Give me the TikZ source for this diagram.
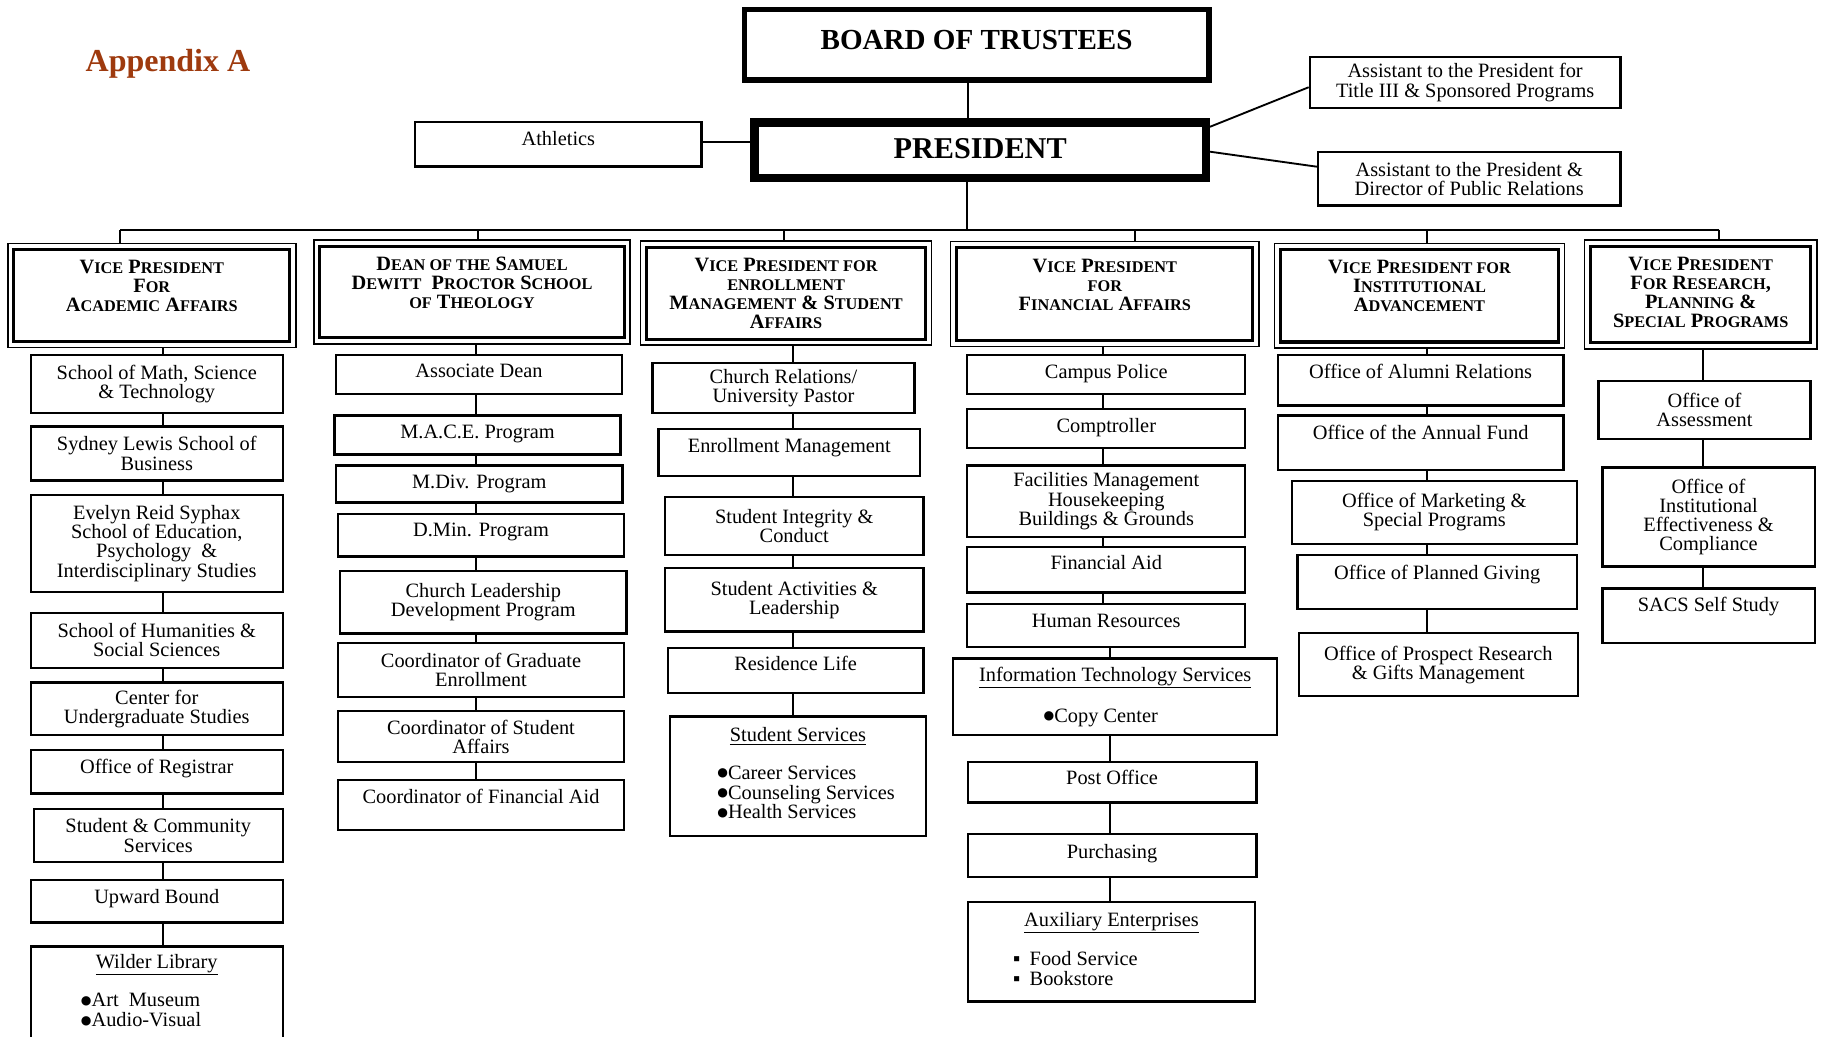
\documentclass[tikz,border=0pt]{standalone}
\usepackage{fontspec}
\setmainfont{Liberation Serif}
\newfontfamily\dotfont{DejaVu Sans}
\usepackage{xcolor}
\definecolor{apxbrown}{RGB}{158,58,14}
\tikzstyle{unit} = [rectangle, draw=black, line width=2pt, inner sep=0pt, align=center, font=\fontsize{17.5}{16.5}\selectfont]
\tikzstyle{vpbox} = [unit, line width=2.6pt, font=\fontsize{17.5}{16.3}\selectfont\bfseries]
\tikzstyle{headbox} = [rectangle, draw=black, inner sep=0pt]
\tikzstyle{link} = [line width=1.6pt]
\tikzstyle{col1} = [unit, minimum width=216.5pt]
\tikzstyle{col2} = [unit, minimum width=246pt]
\tikzstyle{col4} = [unit, minimum width=239pt]
\tikzstyle{col6} = [unit, minimum width=182.5pt]
\tikzset{lift/.style={text depth=#1}}
\newcommand\lowsc[1]{{\fontsize{14}{16.3}\selectfont #1}}
\newcommand\dotmark{\raisebox{2.2pt}{\dotfont\fontsize{10.5}{10}\selectfont ●}}

\begin{document}
\begin{tikzpicture}[x=1pt,y=-1pt]
\useasboundingbox (0,0) rectangle (1568,891);
% top of the chart
\node[anchor=base west, inner sep=0pt, text=apxbrown, font=\fontsize{27.5}{30}\selectfont\bfseries] (apx) at (73.5,61.6) {Appendix A};
\node[headbox, line width=5pt, minimum width=399pt, minimum height=61pt, font=\fontsize{25}{28}\selectfont\bfseries, text depth=9pt] (board) at (839.5,38.6) {BOARD OF TRUSTEES};
\node[headbox, line width=7pt, minimum width=388pt, minimum height=47.5pt, font=\fontsize{26}{28}\selectfont\bfseries, text depth=3pt] (president) at (842.6,129) {PRESIDENT};
\node[unit, minimum width=246pt, minimum height=38pt, lift=9.6pt] (athletics) at (480,124) {Athletics};
\node[unit, minimum width=267pt, minimum height=44pt] (asst1) at (1259.5,71) {Assistant to the President for\\Title III \& Sponsored Programs};
\node[unit, minimum width=260pt, minimum height=46pt] (asst2) at (1263,153.6) {Assistant to the President \&\\Director of Public Relations};

\draw[link, line width=1.8pt] ([xshift=-7pt]board.south) -- ([xshift=-7pt]board.south |- president.north);
\draw[link] ([yshift=2pt]athletics.east) -- ([yshift=2pt]athletics.east -| president.west);
\draw[link] ([yshift=20pt]president.east) -- ([yshift=-4pt]asst1.west);
\draw[link] ([yshift=-1.4pt]president.east) -- ([yshift=10.3pt]asst2.west);

% vice presidents
\node[vpbox, minimum width=237pt, minimum height=79pt] (vpaa) at (130.5,254) {V\lowsc{ICE} P\lowsc{RESIDENT}\\F\lowsc{OR}\\A\lowsc{CADEMIC} A\lowsc{FFAIRS}\\\mbox{}};
\node[vpbox, minimum width=261.5pt, minimum height=79pt] (dean) at (405.75,251) {D\lowsc{EAN OF THE} S\lowsc{AMUEL}\\D\lowsc{EWITT}\ \ P\lowsc{ROCTOR} S\lowsc{CHOOL}\\\lowsc{OF} T\lowsc{HEOLOGY}\\\mbox{}};
\node[vpbox, minimum width=239.5pt, minimum height=79pt] (vpem) at (675.75,252) {V\lowsc{ICE} P\lowsc{RESIDENT FOR}\\\lowsc{ENROLLMENT}\\M\lowsc{ANAGEMENT} \& S\lowsc{TUDENT}\\A\lowsc{FFAIRS}};
\node[vpbox, minimum width=254.5pt, minimum height=79.5pt] (vpfa) at (949.75,252.75) {V\lowsc{ICE} P\lowsc{RESIDENT}\\\lowsc{FOR}\\F\lowsc{INANCIAL} A\lowsc{FFAIRS}\\\mbox{}};
\node[vpbox, minimum width=238.5pt, minimum height=79.5pt] (vpia) at (1220.25,254.25) {V\lowsc{ICE} P\lowsc{RESIDENT FOR}\\I\lowsc{NSTITUTIONAL}\\A\lowsc{DVANCEMENT}\\\mbox{}};
\node[vpbox, minimum width=189pt, minimum height=83pt, text depth=4pt] (vprp) at (1462,253) {V\lowsc{ICE} P\lowsc{RESIDENT}\\F\lowsc{OR} R\lowsc{ESEARCH},\\P\lowsc{LANNING} \&\\S\lowsc{PECIAL} P\lowsc{ROGRAMS}};
\foreach \n in {vpaa,dean,vpem,vpfa,vpia,vprp}
  \draw[line width=1.4pt] ([xshift=-4pt,yshift=4pt]\n.north west) rectangle ([xshift=4pt,yshift=-4pt]\n.south east);

\coordinate (bus) at (831.5,197.5);
\draw[link, line width=1.8pt] ([xshift=-11pt]president.south) -- ([xshift=-11pt]president.south |- bus);
\draw[link] ([xshift=-27pt]vpaa.north |- bus) -- ([xshift=16pt]vprp.north |- bus);
\foreach \n/\dx in {vpaa/-27,dean/5.25,vpem/-1.75,vpfa/25.75,vpia/6.75,vprp/16}
  \draw[link] ([xshift=\dx pt]\n.north |- bus) -- ([xshift=\dx pt,yshift=4pt]\n.north);

% academic affairs
\node[col1, minimum height=50pt] (aa1) at (134.75,330) {School of Math, Science\\\& Technology};
\node[col1, minimum height=46.5pt] (aa2) at (134.75,389.75) {Sydney Lewis School of\\Business};
\node[col1, minimum height=83.7pt] (aa3) at (134.75,467.15) {Evelyn Reid Syphax\\School of Education,\\Psychology\ \ \&\\Interdisciplinary Studies};
\node[col1, minimum height=47.3pt] (aa4) at (134.75,550.35) {School of Humanities \&\\Social Sciences};
\node[col1, minimum height=45.2pt] (aa5) at (134.75,609.4) {Center for\\Undergraduate Studies};
\node[col1, minimum height=37.3pt, lift=9.9pt] (aa6) at (134.75,663.35) {Office of Registrar};
\node[col1, minimum width=214pt, minimum height=45.6pt] (aa7) at (136,718.2) {Student \& Community\\Services};
\node[col1, minimum height=36.6pt, lift=9pt] (aa8) at (134.75,774.7) {Upward Bound};
\node[col1, minimum height=80.6pt] (aa9) at (134.75,854) {\underline{Wilder Library}\\[14.5pt]\begin{tabular}[t]{@{}l@{\hspace{27pt}}}\dotmark Art\ \ Museum\\\dotmark Audio-Visual\end{tabular}};

% theology
\node[col2, minimum height=33.7pt, lift=5.7pt] (ad) at (411.75,321.85) {Associate Dean};
\node[col2, minimum height=33.3pt, lift=5.1pt] (mace) at (410.5,373.95) {M.A.C.E. Program};
\node[col2, minimum height=31.7pt, lift=3.5pt] (mdiv) at (412,416.15) {M.Div. Program};
\node[col2, minimum height=36.6pt, lift=9.2pt] (dmin) at (413.5,460.2) {D.Min. Program};
\node[col2, minimum height=53.9pt] (cld) at (415.5,517.55) {Church Leadership\\Development Program};
\node[col2, minimum height=45.9pt] (cge) at (413.5,575.95) {Coordinator of Graduate\\Enrollment};
\node[col2, minimum height=44.2pt] (csa) at (413.5,633.2) {Coordinator of Student\\Affairs};
\node[col2, minimum height=42.9pt, lift=14.3pt] (cfa) at (413.5,691.95) {Coordinator of Financial Aid};

% enrollment management and student affairs
\node[unit, minimum width=225pt, minimum height=42.8pt] (em1) at (673.5,333.4) {Church Relations/\\University Pastor};
\node[unit, minimum width=225pt, minimum height=40.2pt, lift=11.6pt] (em2) at (678.5,389.1) {Enrollment Management};
\node[unit, minimum width=222.5pt, minimum height=49.8pt] (em3) at (682.75,452.2) {Student Integrity \&\\Conduct};
\node[unit, minimum width=222.5pt, minimum height=54.7pt] (em4) at (682.75,515.65) {Student Activities \&\\Leadership};
\node[unit, minimum width=220pt, minimum height=38.7pt, lift=11.3pt] (em5) at (684,576.15) {Residence Life};
\node[unit, minimum width=220pt, minimum height=102.6pt] (em6) at (686,667.3) {\underline{Student Services}\\[15.5pt]\begin{tabular}[t]{@{\hspace{14pt}}l@{}}\dotmark Career Services\\\dotmark Counseling Services\\\dotmark Health Services\end{tabular}};

% financial affairs
\node[col4, minimum height=33.7pt, lift=5.8pt] (fa1) at (951,321.85) {Campus Police};
\node[col4, minimum height=33.8pt, lift=6.2pt] (fa2) at (951,368.5) {Comptroller};
\node[col4, minimum height=61.1pt] (fa3) at (951,430.85) {Facilities Management\\Housekeeping\\Buildings \& Grounds};
\node[col4, minimum height=39.2pt, lift=11.8pt] (fa4) at (951,489.6) {Financial Aid};
\node[col4, minimum height=36.4pt, lift=7.6pt] (fa5) at (951,537.7) {Human Resources};
\node[unit, minimum width=278.5pt, minimum height=66.1pt] (fa6) at (958.75,599.05) {\underline{Information Technology Services}\\[16.5pt]\dotmark Copy Center\kern25pt};
\node[unit, minimum width=248pt, minimum height=35pt, lift=8pt] (fa7) at (956,672.5) {Post Office};
\node[unit, minimum width=248pt, minimum height=36.9pt, lift=8.3pt] (fa8) at (956,735.65) {Purchasing};
\node[unit, minimum width=247pt, minimum height=85.7pt] (fa9) at (955.5,818.15) {\underline{Auxiliary Enterprises}\\[15pt]\begin{tabular}[t]{@{}l@{\hspace{62pt}}}▪\hspace{8pt}Food Service\\▪\hspace{8pt}Bookstore\end{tabular}};

% institutional advancement
\node[unit, minimum width=245.5pt, minimum height=43.7pt, lift=15.7pt] (ia1) at (1221.25,326.85) {Office of Alumni Relations};
\node[unit, minimum width=245.5pt, minimum height=46.7pt, lift=18.5pt] (ia2) at (1221.25,380.65) {Office of the Annual Fund};
\node[unit, minimum width=245pt, minimum height=54.5pt] (ia3) at (1233,440.45) {Office of Marketing \&\\Special Programs};
\node[unit, minimum width=240pt, minimum height=46.7pt, lift=17.5pt] (ia4) at (1235.5,500.45) {Office of Planned Giving};
\node[unit, minimum width=240pt, minimum height=53.9pt] (ia5) at (1236.5,571.35) {Office of Prospect Research\\\& Gifts Management};

% research, planning and special programs
\node[col6, minimum height=49.9pt] (rp1) at (1465.25,352.45) {Office of\\Assessment};
\node[col6, minimum height=85.2pt] (rp2) at (1468.75,444.4) {Office of\\Institutional\\Effectiveness \&\\Compliance};
\node[col6, minimum height=47.2pt, lift=19.8pt] (rp3) at (1468.75,529.4) {SACS Self Study};

% column links
\coordinate (c1) at (140,0);
\coordinate (c2) at (409,0);
\coordinate (c3) at (682,0);
\coordinate (c4) at (948,0);
\coordinate (c4b) at (954,0);
\coordinate (c5) at (1227,0);
\coordinate (c6) at (1464,0);
\foreach \v/\b/\c in {vpaa/aa1/c1,dean/ad/c2,vpem/em1/c3,vpfa/fa1/c4,vpia/ia1/c5,vprp/rp1/c6}
  \draw[link] (\b.north -| \c) -- ([yshift=-4pt]\v.south -| \c);
\foreach \a/\b/\c in {aa1/aa2/c1,aa2/aa3/c1,aa3/aa4/c1,aa4/aa5/c1,aa5/aa6/c1,aa6/aa7/c1,aa7/aa8/c1,aa8/aa9/c1,
    ad/mace/c2,mace/mdiv/c2,mdiv/dmin/c2,dmin/cld/c2,cld/cge/c2,cge/csa/c2,csa/cfa/c2,
    em1/em2/c3,em2/em3/c3,em3/em4/c3,em4/em5/c3,em5/em6/c3,
    fa1/fa2/c4,fa2/fa3/c4,fa3/fa4/c4,fa4/fa5/c4,fa5/fa6/c4b,fa6/fa7/c4b,fa7/fa8/c4b,fa8/fa9/c4b,
    ia1/ia2/c5,ia2/ia3/c5,ia3/ia4/c5,ia4/ia5/c5,rp1/rp2/c6,rp2/rp3/c6}
  \draw[link] (\b.north -| \c) -- (\a.south -| \c);
\end{tikzpicture}
\end{document}
